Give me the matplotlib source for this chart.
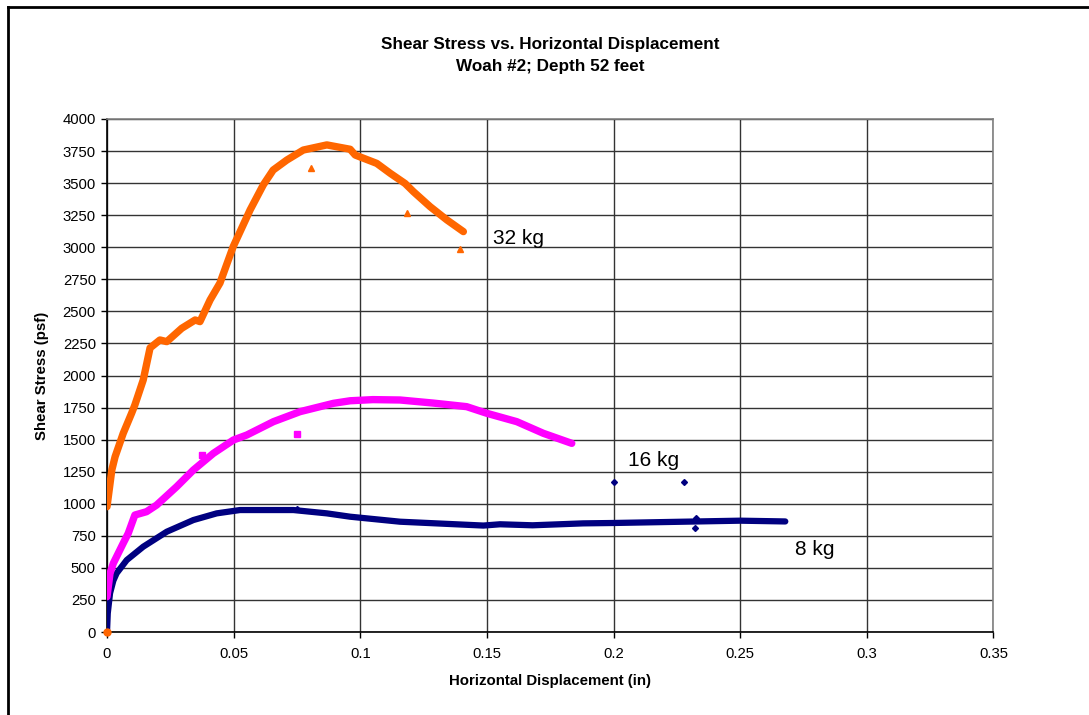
import matplotlib
matplotlib.use("Agg")
import matplotlib.pyplot as plt
from matplotlib.lines import Line2D

plt.rcParams['font.family'] = ['Liberation Sans', 'DejaVu Sans']

# 8 kg normal load
disp_8kg = [0, 0.0003, 0.0012, 0.0025, 0.0038, 0.0078, 0.0143, 0.0236, 0.0341, 0.0433,
            0.0525, 0.063, 0.0736, 0.0868, 0.096, 0.1157, 0.1486, 0.1552, 0.168, 0.188,
            0.2, 0.2276, 0.25, 0.2678]
stress_8kg = [0, 146, 302, 400, 458, 561, 665, 782, 873, 925,
              951, 951, 951, 925, 899, 860, 830, 840, 832, 847,
              850, 860, 868, 862]
stray_disp_8kg = [0.2, 0.228, 0.2322, 0.2325, 0.075]
stray_stress_8kg = [1172, 1172, 813, 885, 962]

# 16 kg normal load
disp_16kg = [0, 0.0012, 0.0025, 0.0064, 0.0084, 0.011, 0.0156, 0.0196, 0.0275, 0.0341,
             0.042, 0.0499, 0.0552, 0.0657, 0.0762, 0.0894, 0.096, 0.105, 0.1157, 0.1288,
             0.142, 0.15, 0.1618, 0.1723, 0.1835]
stress_16kg = [275, 458, 536, 692, 770, 912, 938, 990, 1133, 1263,
               1393, 1497, 1536, 1640, 1718, 1783, 1803, 1812, 1809, 1785,
               1757, 1705, 1640, 1549, 1471]
stray_disp_16kg = [0.0376, 0.0752]
stray_stress_16kg = [1380, 1541]

# 32 kg normal load
disp_32kg = [0, 0.0019, 0.0032, 0.0064, 0.0097, 0.011, 0.0143, 0.017, 0.0209, 0.0236,
             0.0295, 0.0348, 0.0367, 0.0407, 0.0446, 0.0498, 0.0565, 0.0617, 0.0656, 0.071,
             0.0775, 0.0868, 0.096, 0.098, 0.1065, 0.1118, 0.1177, 0.121, 0.1276, 0.1342,
             0.1407]
stress_32kg = [977, 1263, 1367, 1549, 1705, 1770, 1965, 2215, 2277, 2264,
               2368, 2433, 2420, 2589, 2721, 3004, 3291, 3486, 3602, 3680,
               3758, 3798, 3764, 3719, 3654, 3577, 3497, 3433, 3316, 3213,
               3122]
stray_disp_32kg = [0.0806, 0.1186, 0.1394]
stray_stress_32kg = [3616, 3270, 2984]

series_labels = ["8 kg", "16 kg", "32 kg"]
label_x = [0.2717, 0.2058, 0.1525]
label_y = [640, 1341, 3072]

x_ticks = [0, 0.05, 0.1, 0.15, 0.2, 0.25, 0.3, 0.35]
x_tick_labels = ["0", "0.05", "0.1", "0.15", "0.2", "0.25", "0.3", "0.35"]
y_ticks = list(range(0, 4001, 250))

NAVY = "#000080"
MAGENTA = "#FF00FF"
ORANGE = "#FF6600"

fig = plt.figure(figsize=(10.89, 7.15), dpi=100)
ax = fig.add_axes([107 / 1089, 83 / 715, 886.5 / 1089, 513 / 715])

ax.plot(disp_8kg, stress_8kg, color=NAVY, lw=4.5, solid_capstyle='round',
        solid_joinstyle='round', zorder=3)
ax.plot(stray_disp_8kg, stray_stress_8kg, ls='none', marker='D', ms=3,
        color=NAVY, zorder=3)

ax.plot(disp_16kg, stress_16kg, color=MAGENTA, lw=5.3, solid_capstyle='round',
        solid_joinstyle='round', zorder=4)
ax.plot(stray_disp_16kg, stray_stress_16kg, ls='none', marker='s', ms=4,
        color=MAGENTA, zorder=4)

ax.plot(disp_32kg, stress_32kg, color=ORANGE, lw=5.3, solid_capstyle='round',
        solid_joinstyle='round', zorder=5)
ax.plot(stray_disp_32kg, stray_stress_32kg, ls='none', marker='^', ms=4,
        color=ORANGE, zorder=5)
ax.plot([0], [0], ls='none', marker='o', ms=5, color=ORANGE, zorder=6,
        clip_on=False)

for txt, lx, ly in zip(series_labels, label_x, label_y):
    ax.text(lx, ly, txt, fontsize=15, ha='left', va='center', color='black')

ax.set_xlim(0, 0.35)
ax.set_ylim(0, 4000)
ax.set_xticks(x_ticks)
ax.set_xticklabels(x_tick_labels)
ax.set_yticks(y_ticks)
ax.grid(True, color='#333333', lw=1.0, zorder=0)
ax.set_axisbelow(True)

ax.tick_params(axis='both', direction='out', length=4, width=1, color='black',
               labelsize=10.7)
ax.tick_params(axis='x', pad=7)
ax.tick_params(axis='y', pad=4)

for side in ('left', 'bottom'):
    ax.spines[side].set_color('black')
    ax.spines[side].set_linewidth(1.2)
for side in ('top', 'right'):
    ax.spines[side].set_color('#808080')
    ax.spines[side].set_linewidth(1.2)

ax.set_xlabel("Horizontal Displacement (in)", fontsize=10.8, fontweight='bold',
              labelpad=9)
ax.set_ylabel("Shear Stress (psf)", fontsize=10.8, fontweight='bold', labelpad=10)

fig.text(550 / 1089, 1 - 44 / 715, "Shear Stress vs. Horizontal Displacement",
         ha='center', va='center', fontsize=12.3, fontweight='bold')
fig.text(550 / 1089, 1 - 66 / 715, "Woah #2; Depth 52 feet",
         ha='center', va='center', fontsize=12.3, fontweight='bold')

# chart border
fig.add_artist(Line2D([7.5 / 1089, 7.5 / 1089], [0, 1 - 6.5 / 715],
                      transform=fig.transFigure, color='black', lw=2.0))
fig.add_artist(Line2D([7.5 / 1089, 1], [1 - 6.5 / 715, 1 - 6.5 / 715],
                      transform=fig.transFigure, color='black', lw=2.0))

fig.savefig("out.png", dpi=100)
